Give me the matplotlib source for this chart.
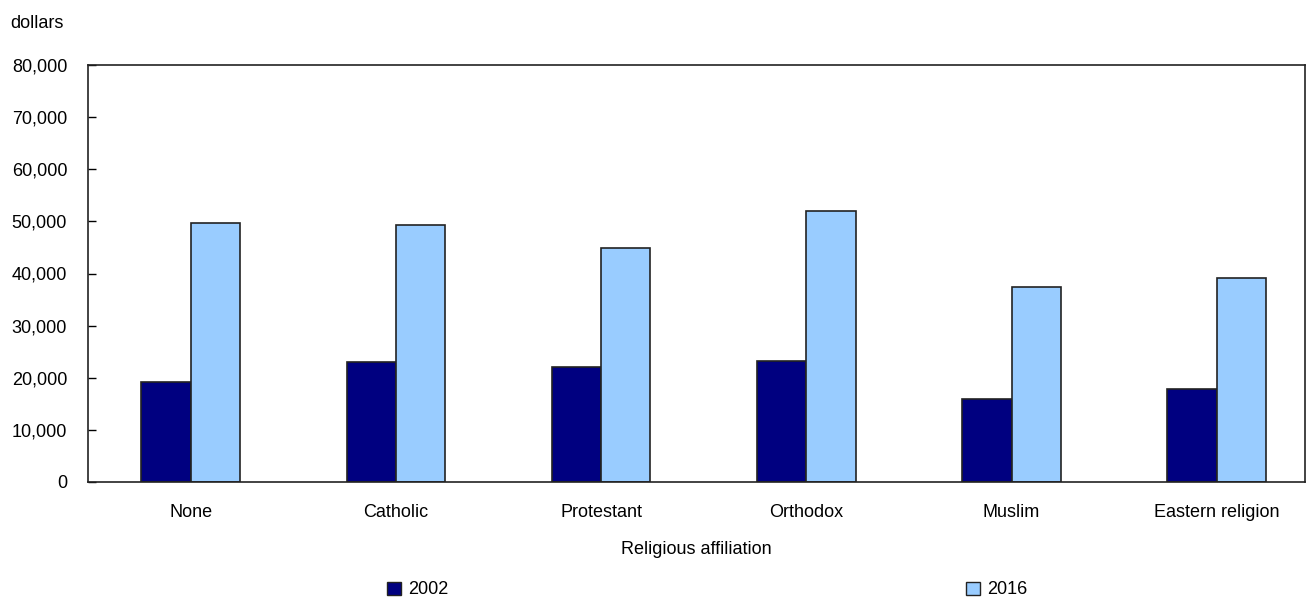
import matplotlib
matplotlib.use("Agg")
import matplotlib.pyplot as plt
import numpy as np
from matplotlib.patches import Patch
from matplotlib import font_manager

categories = ["None", "Catholic", "Protestant", "Orthodox", "Muslim", "Eastern religion"]
series_labels = ["2002", "2016"]
values_2002 = [19100, 23000, 22100, 23200, 16000, 17800]
values_2016 = [49600, 49300, 44900, 51900, 37500, 39200]
yticks = [0, 10000, 20000, 30000, 40000, 50000, 60000, 70000, 80000]

names = {f.name for f in font_manager.fontManager.ttflist}
fam = "Liberation Sans Narrow" if "Liberation Sans Narrow" in names else "Liberation Sans"
plt.rcParams["font.family"] = [fam, "DejaVu Sans"]
plt.rcParams["font.size"] = 13

W, H = 1307, 598
fig = plt.figure(figsize=(W / 100, H / 100), dpi=100)
ax = fig.add_axes([88 / W, 1 - 482 / H, (1305 - 88) / W, (482 - 65) / H])

x = np.arange(len(categories))
bw = 0.24
c1, c2 = "#000080", "#99ccff"
ax.bar(x - bw / 2, values_2002, bw, color=c1, edgecolor="#222222", linewidth=1.2, label=series_labels[0])
ax.bar(x + bw / 2, values_2016, bw, color=c2, edgecolor="#222222", linewidth=1.2, label=series_labels[1])

ax.set_xlim(-0.5, 5.43)
ax.set_ylim(0, 80000)
ax.set_yticks(yticks)
ax.set_yticklabels([f"{v:,}" for v in yticks])
ax.set_xticks(x)
ax.set_xticklabels(categories)
ax.tick_params(axis="y", direction="in", length=6, width=1, pad=15)
ax.tick_params(axis="x", length=0, pad=16)
for s in ax.spines.values():
    s.set_linewidth(1.2)
    s.set_color("#222222")
ax.set_xlabel("Religious affiliation", labelpad=14)
fig.text(10 / W, 1 - 23 / H, "dollars", ha="left", va="center", fontsize=13)

handles = [Patch(facecolor=c1, edgecolor="#222222"), Patch(facecolor=c2, edgecolor="#222222")]
fig.legend(handles, series_labels, loc="center left", bbox_to_anchor=(387 / W, 1 - 590 / H),
           ncol=2, frameon=False, handlelength=0.75, handleheight=0.75, handletextpad=0.4,
           columnspacing=28.7, borderaxespad=0, borderpad=0)

fig.savefig("out.png", dpi=100)
